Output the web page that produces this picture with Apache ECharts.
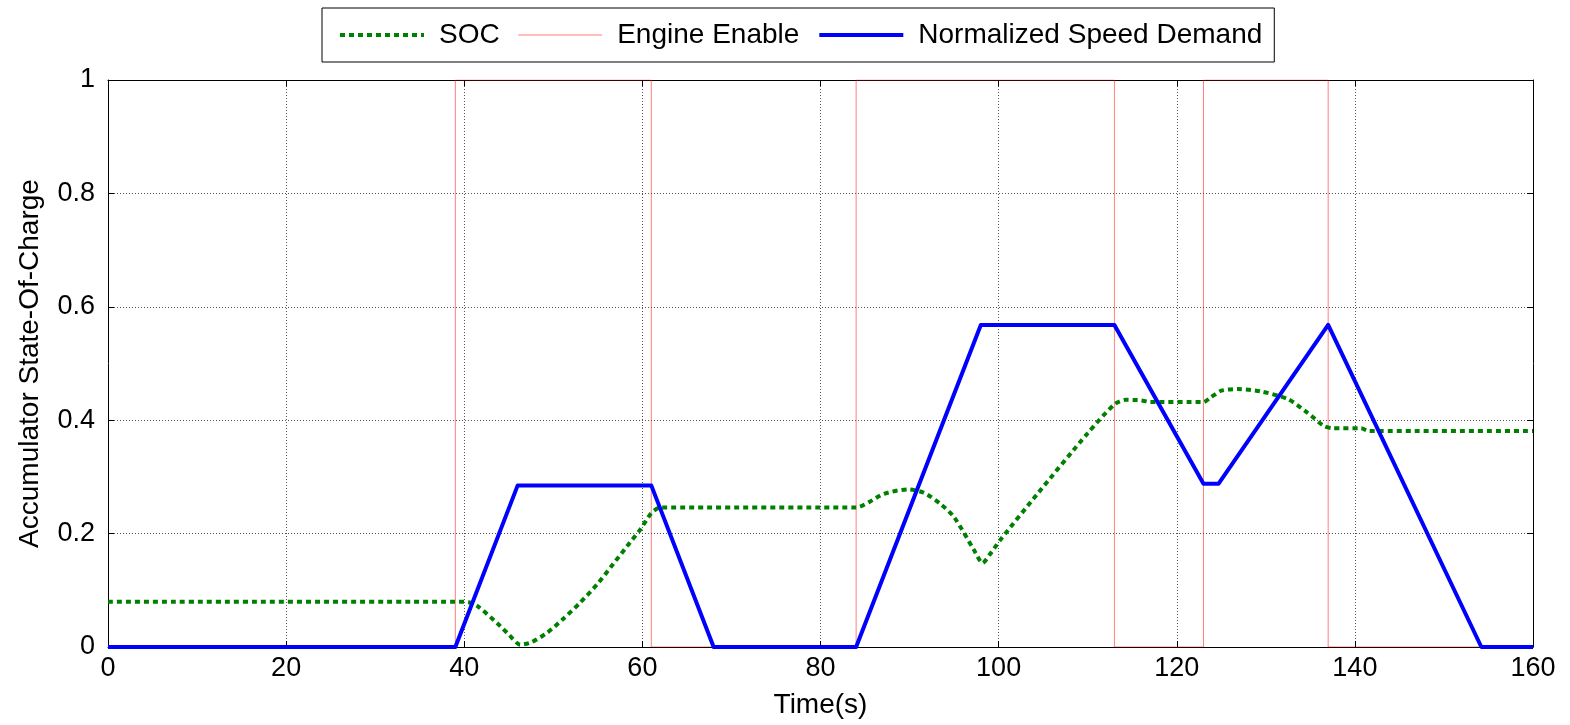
<!DOCTYPE html>
<html>
<head>
<meta charset="utf-8">
<title>Accumulator State-Of-Charge</title>
<script src="https://cdn.jsdelivr.net/npm/echarts@6/dist/echarts.min.js"></script>
<style>
  html, body { margin: 0; padding: 0; background: #ffffff; }
  #chart { width: 1570px; height: 725px; }
</style>
</head>
<body>
<div id="chart"></div>
<script>
// Time axis ticks (s) and value ticks
const timeTicks = [0, 20, 40, 60, 80, 100, 120, 140, 160];
const valueTicks = [0, 0.2, 0.4, 0.6, 0.8, 1];

// Accumulator state-of-charge
const socTime = [0, 39, 40.5, 41.5, 43.7, 45, 46.3, 47.5, 49.3, 51, 53, 55, 56.7, 58.3, 59.8, 61, 62,
  84, 85.5, 87.1, 89.8, 91.6, 93.5, 95, 97.2, 98.2, 99, 100.2, 104.4, 110, 113, 114.3, 116, 117,
  123, 123.8, 125, 126.8, 129.4, 132.5, 134.7, 136.5, 137.5, 140.7, 141.5, 160];
const socValue = [0.08, 0.08, 0.079, 0.072, 0.042, 0.022, 0.004, 0.008, 0.025, 0.048, 0.078, 0.112, 0.146, 0.178, 0.208, 0.236, 0.246,
  0.246, 0.256, 0.270, 0.278, 0.272, 0.252, 0.229, 0.172, 0.148, 0.163, 0.189, 0.271, 0.377, 0.428, 0.436, 0.435, 0.432,
  0.432, 0.44, 0.452, 0.455, 0.451, 0.437, 0.413, 0.39, 0.386, 0.386, 0.381, 0.381];

// Engine enable flag (0 = off, 1 = on), value held until the next time
const engineTime = [0, 39, 61, 84, 113, 123, 137, 160];
const engineValue = [0, 1, 0, 1, 0, 1, 0, 0];

// Normalized speed demand
const speedTime = [0, 39, 46, 61, 68, 84, 98, 113, 123, 124.7, 137, 154.2, 160];
const speedValue = [0, 0, 0.285, 0.285, 0, 0, 0.568, 0.568, 0.288, 0.288, 0.568, 0, 0];

const pairs = (xs, ys) => xs.map((x, i) => [x, ys[i]]);

const FONT = '"Liberation Sans", Arial, sans-serif';
const chart = echarts.init(document.getElementById('chart'), null, { renderer: 'canvas' });

const xBase = {
  type: 'value', min: 0, max: 160, interval: 20,
  axisLine: { show: true, onZero: false, lineStyle: { color: '#000', width: 1 } },
  axisTick: { show: true, inside: true, length: 6, lineStyle: { color: '#000' } },
};
const yBase = {
  type: 'value', min: 0, max: 1, interval: 0.2,
  axisLine: { show: true, onZero: false, lineStyle: { color: '#000', width: 1 } },
  axisTick: { show: true, inside: true, length: 6, lineStyle: { color: '#000' } },
};

chart.setOption({
  animation: false,
  backgroundColor: '#ffffff',
  textStyle: { fontFamily: FONT },
  grid: { left: 108, right: 37, top: 80, bottom: 78, containLabel: false },
  legend: {
    top: 8, left: 322,
    padding: [13, 12, 13, 16],
    borderColor: '#000', borderWidth: 1,
    backgroundColor: '#fff',
    itemWidth: 84, itemHeight: 14, itemGap: 18,
    itemStyle: { opacity: 0 },
    lineStyle: { width: 'inherit', type: 'inherit' },
    textStyle: { fontFamily: FONT, fontSize: 28, color: '#000', padding: [0, 0, 0, 10] },
    data: ['SOC', 'Engine Enable', 'Normalized Speed Demand']
  },
  xAxis: [
    Object.assign({}, xBase, {
      position: 'bottom',
      name: 'Time(s)', nameLocation: 'middle', nameGap: 44,
      nameTextStyle: { fontFamily: FONT, fontSize: 28, color: '#000' },
      axisLabel: {
        fontFamily: FONT, fontSize: 27, color: '#000', margin: 8,
        formatter: v => timeTicks.includes(v) ? String(v) : ''
      },
      splitLine: { show: true, lineStyle: { color: '#555', width: 1, type: [1, 2] } }
    }),
    Object.assign({}, xBase, {
      position: 'top',
      axisLabel: { show: false },
      splitLine: { show: false }
    })
  ],
  yAxis: [
    Object.assign({}, yBase, {
      position: 'left',
      name: 'Accumulator State-Of-Charge', nameLocation: 'middle', nameGap: 64,
      nameTextStyle: { fontFamily: FONT, fontSize: 28, color: '#000' },
      axisLabel: {
        fontFamily: FONT, fontSize: 27, color: '#000', margin: 13,
        formatter: v => {
          const t = valueTicks.find(k => Math.abs(k - v) < 1e-9);
          return t === undefined ? '' : String(t);
        }
      },
      splitLine: { show: true, lineStyle: { color: '#555', width: 1, type: [1, 2] } }
    }),
    Object.assign({}, yBase, {
      position: 'right',
      axisLabel: { show: false },
      splitLine: { show: false }
    })
  ],
  series: [
    {
      name: 'SOC', type: 'line', xAxisIndex: 0, yAxisIndex: 0,
      data: pairs(socTime, socValue),
      symbol: 'none', smooth: 0.25, z: 3,
      lineStyle: { color: '#008000', width: 4, type: [5, 4], cap: 'butt' },
      itemStyle: { color: '#008000' }
    },
    {
      name: 'Engine Enable', type: 'line', xAxisIndex: 0, yAxisIndex: 0,
      data: pairs(engineTime, engineValue),
      step: 'end', symbol: 'none', z: 2,
      lineStyle: { color: 'rgba(255,0,0,0.5)', width: 1 },
      itemStyle: { color: 'rgba(255,0,0,0.5)' }
    },
    {
      name: 'Normalized Speed Demand', type: 'line', xAxisIndex: 0, yAxisIndex: 0,
      data: pairs(speedTime, speedValue),
      symbol: 'none', z: 4,
      lineStyle: { color: '#0000ff', width: 4, join: 'round' },
      itemStyle: { color: '#0000ff' }
    }
  ]
});
</script>
</body>
</html>
